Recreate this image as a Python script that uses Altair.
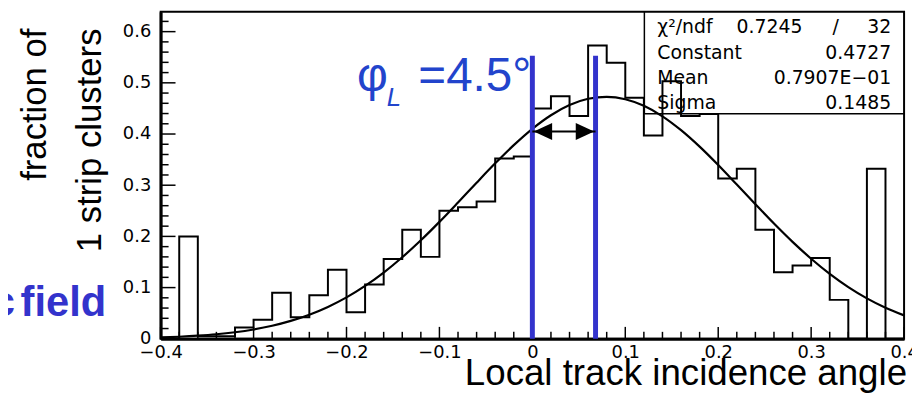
import altair as alt
import pandas as pd

# ---------------- data ----------------
bin_edges = [-0.40, -0.38, -0.36, -0.34, -0.32, -0.30, -0.28, -0.26, -0.24, -0.22,
             -0.20, -0.18, -0.16, -0.14, -0.12, -0.10, -0.08, -0.06, -0.04, -0.02,
             0.00, 0.02, 0.04, 0.06, 0.08, 0.10, 0.12, 0.14, 0.16, 0.18,
             0.20, 0.22, 0.24, 0.26, 0.28, 0.30, 0.32, 0.34, 0.36, 0.38, 0.40]
fraction = [0.000, 0.200, 0.005, 0.005, 0.022, 0.037, 0.090, 0.042, 0.085, 0.135,
            0.052, 0.106, 0.156, 0.213, 0.160, 0.250, 0.257, 0.268, 0.352, 0.356,
            0.450, 0.474, 0.435, 0.573, 0.539, 0.471, 0.397, 0.503, 0.435, 0.439,
            0.313, 0.332, 0.213, 0.130, 0.143, 0.158, 0.076, 0.000, 0.332, 0.000]

fit_x = [-0.40, -0.38, -0.36, -0.34, -0.32, -0.30, -0.28, -0.26, -0.24, -0.22,
         -0.20, -0.18, -0.16, -0.14, -0.12, -0.10, -0.08, -0.06, -0.04, -0.02,
         0.00, 0.02, 0.04, 0.06, 0.08, 0.10, 0.12, 0.14, 0.16, 0.18,
         0.20, 0.22, 0.24, 0.26, 0.28, 0.30, 0.32, 0.34, 0.36, 0.38, 0.40]
fit_y = [0.0026, 0.0040, 0.0060, 0.0088, 0.0128, 0.0182, 0.0254, 0.0349, 0.0470, 0.0622,
         0.0808, 0.1032, 0.1293, 0.1592, 0.1924, 0.2284, 0.2663, 0.3049, 0.3427, 0.3783,
         0.4102, 0.4367, 0.4566, 0.4688, 0.4727, 0.4680, 0.4551, 0.4346, 0.4075, 0.3753,
         0.3394, 0.3013, 0.2628, 0.2251, 0.1893, 0.1564, 0.1268, 0.1010, 0.0790, 0.0607, 0.0457]

phi_lines = [0.0, 0.068]
phi_top = 0.553
arrow_y = 0.405

x_major = [-0.4, -0.3, -0.2, -0.1, 0.0, 0.1, 0.2, 0.3, 0.4]
x_minor = [-0.38, -0.36, -0.34, -0.32, -0.28, -0.26, -0.24, -0.22, -0.18, -0.16, -0.14, -0.12,
           -0.08, -0.06, -0.04, -0.02, 0.02, 0.04, 0.06, 0.08, 0.12, 0.14, 0.16, 0.18,
           0.22, 0.24, 0.26, 0.28, 0.32, 0.34, 0.36, 0.38]
y_major = [0.0, 0.1, 0.2, 0.3, 0.4, 0.5, 0.6]
y_minor = [0.02, 0.04, 0.06, 0.08, 0.12, 0.14, 0.16, 0.18, 0.22, 0.24, 0.26, 0.28,
           0.32, 0.34, 0.36, 0.38, 0.42, 0.44, 0.46, 0.48, 0.52, 0.54, 0.56, 0.58, 0.62]

stat_names = ["χ²/ndf", "Constant", "Mean", "Sigma"]
stat_values = ["32", "0.4727", "0.7907E−01", "0.1485"]
chi2_value = "0.7245"

# ---------------- layout ----------------
W, H = 750, 330
XDOM = [-0.4, 0.4]
YDOM = [0.0, 0.639]
xs = alt.Scale(domain=XDOM, nice=False, zero=False)
ys = alt.Scale(domain=YDOM, nice=False, zero=False)
BLUE = "#3333cc"
TXTBLUE = "#2244cc"
TICKFONT = "DejaVu Sans"
SANS = "Liberation Sans"

x_axis = alt.Axis(values=x_major, format=".1~f", title=None, ticks=False, grid=False,
                  domain=True, domainColor="black", domainWidth=3,
                  labelFont=TICKFONT, labelFontSize=18, labelColor="black",
                  labelPadding=5, labelFlush=False, labelOverlap=False)
y_axis = alt.Axis(values=y_major, format=".1~f", title=None, ticks=False, grid=False,
                  domain=True, domainColor="black", domainWidth=3,
                  labelFont=TICKFONT, labelFontSize=18, labelColor="black",
                  labelPadding=10, labelFlush=False, labelOverlap=False)


def X(field):
    return alt.X(field, scale=xs, axis=x_axis)


def Y(field):
    return alt.Y(field, scale=ys, axis=y_axis)


hist_df = pd.DataFrame({"x": bin_edges, "y": fraction + [fraction[-1]]})
fit_df = pd.DataFrame({"x": fit_x, "y": fit_y})

hist = alt.Chart(hist_df).mark_line(
    interpolate="step-after", color="black", strokeWidth=2, clip=True
).encode(x=X("x:Q"), y=Y("y:Q"))

fit = alt.Chart(fit_df).mark_line(
    interpolate="monotone", color="black", strokeWidth=2.2, clip=True
).encode(x=X("x:Q"), y=Y("y:Q"))


def xticks(vals, length):
    return alt.Chart(pd.DataFrame({"x": vals})).mark_rule(color="black", strokeWidth=1.5).encode(
        x=X("x:Q"), y=alt.value(H), y2=alt.value(H - length))


def yticks(vals, length):
    return alt.Chart(pd.DataFrame({"y": vals})).mark_rule(color="black", strokeWidth=1.5).encode(
        y=Y("y:Q"), x=alt.value(0), x2=alt.value(length))


blue_df = pd.DataFrame({"x": phi_lines, "top": [phi_top] * len(phi_lines),
                        "bot": [0.0] * len(phi_lines)})
blue = alt.Chart(blue_df).mark_rule(color=BLUE, strokeWidth=5).encode(
    x=X("x:Q"), y=Y("top:Q"), y2="bot:Q")

arrow_df = pd.DataFrame({"x": [phi_lines[0]], "x2": [phi_lines[1]], "y": [arrow_y]})
arrow_line = alt.Chart(arrow_df).mark_rule(color="black", strokeWidth=2).encode(
    x=X("x:Q"), x2="x2:Q", y=Y("y:Q"))

head_df = pd.DataFrame({"x": phi_lines, "y": [arrow_y] * 2})
head_l = alt.Chart(head_df.iloc[[0]]).mark_point(
    shape="M 0.15 0 L 2.1 -0.9 L 2.1 0.9 Z", filled=True, color="black", opacity=1, size=361
).encode(x=X("x:Q"), y=Y("y:Q"))
head_r = alt.Chart(head_df.iloc[[1]]).mark_point(
    shape="M -0.15 0 L -2.1 -0.9 L -2.1 0.9 Z", filled=True, color="black", opacity=1, size=361
).encode(x=X("x:Q"), y=Y("y:Q"))

box_h = alt.Chart(pd.DataFrame({"a": [0]})).mark_rule(color="black", strokeWidth=1.5).encode(
    x=alt.value(488), x2=alt.value(W), y=alt.value(103))
box_v = alt.Chart(pd.DataFrame({"a": [0]})).mark_rule(color="black", strokeWidth=1.5).encode(
    x=alt.value(488), y=alt.value(0), y2=alt.value(103))


def label(text, x, y, size, font, color="black", align="left", baseline="alphabetic",
          angle=None, weight="normal", style="normal"):
    kw = dict(align=align, baseline=baseline, fontSize=size, font=font, color=color,
              fontWeight=weight, fontStyle=style)
    if angle:
        kw["angle"] = angle
    return alt.Chart(pd.DataFrame({"t": [text]})).mark_text(**kw).encode(
        x=alt.value(x), y=alt.value(y), text="t:N")


STATFONT = "DejaVu Sans"
row_y = [22, 47.5, 73, 98.5]
stats = []
for i, name in enumerate(stat_names):
    stats.append(label(name, 501, row_y[i], 19, STATFONT))
    stats.append(label(stat_values[i], 737, row_y[i], 19, STATFONT, align="right"))
stats.append(label(chi2_value, 581, row_y[0], 19, STATFONT))
stats.append(label("/", 681, row_y[0], 19, STATFONT, align="center"))

texts = [
    label("φ", 198, 80, 48, SANS, color=TXTBLUE),
    label("L", 228, 95, 26, SANS, color=TXTBLUE, style="italic"),
    label("=4.5°", 260, 80, 48, SANS, color=TXTBLUE),
    label("Local track incidence angle", 753, 377, 37, SANS, align="right"),
    label("fraction of", -116, 17, 35, SANS, align="right", angle=270),
    label("1 strip clusters", -60, 17, 35, SANS, align="right", angle=270),
    label("c", -147, 307, 42, SANS, color=BLUE, align="right", weight="bold"),
    label("field", -55, 307, 42, SANS, color=BLUE, align="right", weight="bold"),
]

chart = alt.layer(
    hist, fit, xticks(x_minor, 7), xticks(x_major, 12), yticks(y_minor, 8), yticks(y_major, 15),
    blue, arrow_line, head_l, head_r, box_h, box_v, *stats, *texts
).properties(
    width=W, height=H,
    autosize=alt.AutoSizeParams(type="none"),
    padding={"left": 154, "top": 2, "right": 8, "bottom": 54},
).configure_view(stroke="black", strokeWidth=2)

chart.save("out.html", embed_options={"renderer": "svg", "actions": False})
